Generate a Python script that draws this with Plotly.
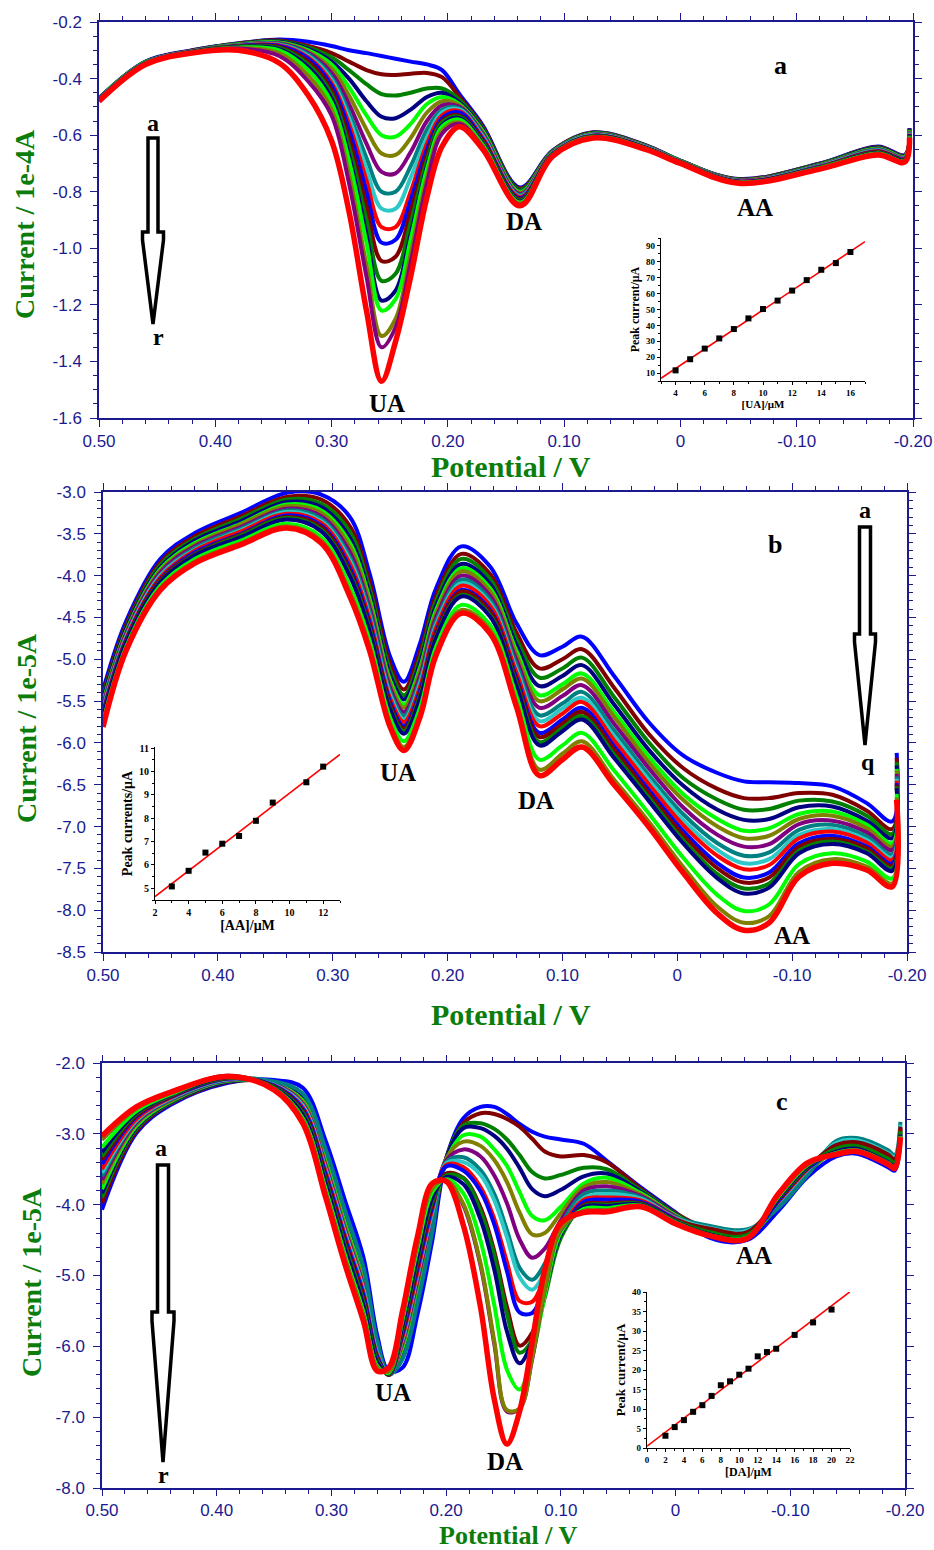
import numpy as np
import plotly.graph_objects as go

W, H = 934, 1550

# ---------------------------------------------------------------- colours
BLUE, MAROON, GREEN, NAVY = "#0000FF", "#800000", "#008000", "#000080"
LIME, OLIVE, PURPLE, TEAL = "#00FF00", "#808000", "#800080", "#008080"
CYAN, RED = "#2EC8C8", "#FF0000"
COLORS_18 = [BLUE, MAROON, GREEN, NAVY, LIME, OLIVE, PURPLE, TEAL, CYAN, RED,
             BLUE, MAROON, GREEN, NAVY, LIME, OLIVE, PURPLE, RED]
COLORS_17 = [BLUE, MAROON, GREEN, NAVY, LIME, OLIVE, PURPLE, TEAL, CYAN, RED,
             BLUE, MAROON, GREEN, NAVY, LIME, OLIVE, RED]

# ---------------------------------------------------------------- panel a (UA additions, 1e-4 A)
potential_a = [0.50, 0.46, 0.42, 0.38, 0.345, 0.32, 0.30, 0.285, 0.27, 0.257, 0.245, 0.232, 0.218,
               0.205, 0.19, 0.17, 0.138, 0.11, 0.075, 0.03, 0.0, -0.05, -0.12, -0.17, -0.193, -0.197]
current_a = [
    [-0.470, -0.340, -0.300, -0.275, -0.262, -0.270, -0.285, -0.300, -0.310, -0.320, -0.330, -0.340, -0.350, -0.370, -0.455, -0.565, -0.785, -0.655, -0.590, -0.635, -0.690, -0.755, -0.700, -0.640, -0.670, -0.575],
    [-0.471, -0.341, -0.301, -0.276, -0.265, -0.285, -0.310, -0.340, -0.370, -0.385, -0.387, -0.383, -0.380, -0.395, -0.465, -0.570, -0.789, -0.656, -0.591, -0.636, -0.691, -0.756, -0.701, -0.642, -0.671, -0.577],
    [-0.471, -0.341, -0.302, -0.277, -0.268, -0.290, -0.325, -0.370, -0.420, -0.455, -0.460, -0.450, -0.435, -0.435, -0.475, -0.575, -0.793, -0.657, -0.592, -0.637, -0.691, -0.757, -0.702, -0.644, -0.673, -0.579],
    [-0.472, -0.342, -0.302, -0.278, -0.270, -0.295, -0.340, -0.400, -0.480, -0.535, -0.540, -0.510, -0.465, -0.450, -0.485, -0.580, -0.797, -0.659, -0.594, -0.638, -0.692, -0.758, -0.704, -0.645, -0.674, -0.581],
    [-0.472, -0.342, -0.303, -0.279, -0.272, -0.300, -0.350, -0.430, -0.530, -0.600, -0.605, -0.560, -0.490, -0.465, -0.490, -0.585, -0.800, -0.660, -0.595, -0.639, -0.692, -0.759, -0.705, -0.647, -0.676, -0.583],
    [-0.473, -0.343, -0.303, -0.280, -0.274, -0.305, -0.365, -0.460, -0.580, -0.665, -0.670, -0.610, -0.520, -0.480, -0.495, -0.590, -0.804, -0.661, -0.596, -0.639, -0.693, -0.759, -0.706, -0.649, -0.677, -0.585],
    [-0.473, -0.343, -0.304, -0.281, -0.276, -0.310, -0.380, -0.490, -0.630, -0.730, -0.735, -0.660, -0.550, -0.495, -0.500, -0.595, -0.808, -0.662, -0.597, -0.640, -0.694, -0.760, -0.707, -0.651, -0.679, -0.587],
    [-0.474, -0.344, -0.304, -0.282, -0.278, -0.315, -0.395, -0.520, -0.680, -0.800, -0.800, -0.710, -0.580, -0.510, -0.505, -0.600, -0.812, -0.663, -0.598, -0.641, -0.694, -0.761, -0.708, -0.652, -0.680, -0.589],
    [-0.474, -0.344, -0.305, -0.283, -0.280, -0.320, -0.405, -0.540, -0.720, -0.860, -0.860, -0.750, -0.610, -0.520, -0.510, -0.605, -0.816, -0.664, -0.599, -0.642, -0.695, -0.762, -0.709, -0.654, -0.682, -0.591],
    [-0.475, -0.345, -0.305, -0.284, -0.282, -0.325, -0.415, -0.560, -0.760, -0.925, -0.925, -0.800, -0.630, -0.530, -0.515, -0.610, -0.819, -0.666, -0.601, -0.643, -0.695, -0.763, -0.711, -0.656, -0.683, -0.594],
    [-0.475, -0.345, -0.306, -0.285, -0.285, -0.330, -0.425, -0.580, -0.800, -0.980, -0.970, -0.830, -0.650, -0.540, -0.520, -0.615, -0.823, -0.667, -0.602, -0.644, -0.696, -0.764, -0.712, -0.658, -0.685, -0.596],
    [-0.476, -0.346, -0.306, -0.286, -0.288, -0.340, -0.440, -0.610, -0.850, -1.045, -1.030, -0.870, -0.670, -0.550, -0.530, -0.620, -0.827, -0.668, -0.603, -0.645, -0.696, -0.765, -0.713, -0.659, -0.686, -0.598],
    [-0.476, -0.346, -0.307, -0.287, -0.292, -0.350, -0.455, -0.640, -0.900, -1.115, -1.090, -0.910, -0.690, -0.555, -0.535, -0.625, -0.831, -0.669, -0.604, -0.646, -0.697, -0.766, -0.714, -0.661, -0.688, -0.600],
    [-0.477, -0.347, -0.307, -0.288, -0.296, -0.360, -0.470, -0.670, -0.950, -1.185, -1.150, -0.950, -0.710, -0.565, -0.540, -0.630, -0.835, -0.670, -0.605, -0.646, -0.698, -0.766, -0.715, -0.663, -0.689, -0.602],
    [-0.477, -0.347, -0.308, -0.290, -0.300, -0.370, -0.485, -0.690, -0.980, -1.220, -1.180, -0.970, -0.720, -0.570, -0.545, -0.635, -0.838, -0.671, -0.606, -0.647, -0.698, -0.767, -0.716, -0.665, -0.691, -0.604],
    [-0.478, -0.348, -0.308, -0.292, -0.310, -0.390, -0.510, -0.740, -1.060, -1.310, -1.250, -1.020, -0.750, -0.585, -0.555, -0.640, -0.842, -0.673, -0.608, -0.648, -0.699, -0.768, -0.718, -0.666, -0.692, -0.606],
    [-0.478, -0.348, -0.309, -0.294, -0.320, -0.410, -0.530, -0.770, -1.100, -1.350, -1.280, -1.050, -0.770, -0.595, -0.560, -0.645, -0.846, -0.674, -0.609, -0.649, -0.699, -0.769, -0.719, -0.668, -0.694, -0.608],
    [-0.480, -0.350, -0.310, -0.300, -0.345, -0.460, -0.620, -0.870, -1.220, -1.470, -1.330, -1.100, -0.820, -0.640, -0.570, -0.650, -0.850, -0.675, -0.610, -0.650, -0.700, -0.770, -0.720, -0.670, -0.695, -0.610],
]

# ---------------------------------------------------------------- panel b (AA additions, 1e-5 A)
# one row per potential, one column per curve a..q
potential_b = [0.50, 0.48, 0.45, 0.42, 0.38, 0.34, 0.31, 0.285, 0.268, 0.25, 0.238, 0.224, 0.21, 0.188,
               0.163, 0.14, 0.12, 0.10, 0.083, 0.055, 0.025, -0.005, -0.035, -0.058, -0.08, -0.106,
               -0.135, -0.165, -0.187, -0.191]
current_b_rows = [
    [-5.37, -5.42, -5.45, -5.48, -5.52, -5.54, -5.56, -5.59, -5.61, -5.63, -5.65, -5.67, -5.69, -5.70, -5.75, -5.79, -5.81],
    [-4.55, -4.59, -4.62, -4.64, -4.67, -4.68, -4.70, -4.73, -4.74, -4.76, -4.78, -4.79, -4.80, -4.81, -4.86, -4.88, -4.90],
    [-3.80, -3.84, -3.87, -3.90, -3.92, -3.94, -3.96, -3.99, -4.00, -4.02, -4.04, -4.05, -4.07, -4.08, -4.12, -4.15, -4.17],
    [-3.49, -3.53, -3.56, -3.58, -3.61, -3.63, -3.65, -3.67, -3.69, -3.70, -3.72, -3.74, -3.75, -3.76, -3.80, -3.83, -3.85],
    [-3.25, -3.29, -3.32, -3.35, -3.38, -3.39, -3.42, -3.44, -3.46, -3.47, -3.50, -3.51, -3.52, -3.54, -3.58, -3.61, -3.63],
    [-3.01, -3.06, -3.09, -3.12, -3.15, -3.17, -3.20, -3.22, -3.24, -3.26, -3.28, -3.30, -3.31, -3.33, -3.38, -3.41, -3.43],
    [-3.03, -3.09, -3.14, -3.18, -3.22, -3.25, -3.29, -3.32, -3.35, -3.37, -3.40, -3.42, -3.45, -3.47, -3.54, -3.58, -3.61],
    [-3.30, -3.41, -3.48, -3.55, -3.61, -3.66, -3.72, -3.78, -3.82, -3.86, -3.91, -3.95, -3.98, -4.01, -4.13, -4.20, -4.25],
    [-3.97, -4.07, -4.15, -4.21, -4.27, -4.32, -4.38, -4.43, -4.48, -4.51, -4.56, -4.60, -4.63, -4.66, -4.77, -4.84, -4.89],
    [-4.97, -5.06, -5.13, -5.19, -5.25, -5.29, -5.34, -5.39, -5.43, -5.47, -5.51, -5.54, -5.58, -5.60, -5.70, -5.77, -5.81],
    [-5.27, -5.36, -5.43, -5.48, -5.54, -5.58, -5.63, -5.68, -5.72, -5.75, -5.80, -5.83, -5.86, -5.89, -5.98, -6.05, -6.09],
    [-4.81, -4.91, -4.98, -5.04, -5.10, -5.14, -5.20, -5.25, -5.29, -5.33, -5.38, -5.41, -5.44, -5.47, -5.58, -5.65, -5.69],
    [-4.15, -4.24, -4.30, -4.36, -4.41, -4.45, -4.50, -4.55, -4.59, -4.62, -4.67, -4.69, -4.73, -4.75, -4.85, -4.91, -4.95],
    [-3.65, -3.74, -3.80, -3.86, -3.91, -3.95, -4.00, -4.05, -4.09, -4.12, -4.17, -4.19, -4.23, -4.25, -4.35, -4.41, -4.45],
    [-3.89, -3.98, -4.04, -4.10, -4.15, -4.19, -4.24, -4.29, -4.33, -4.36, -4.41, -4.43, -4.47, -4.49, -4.59, -4.65, -4.69],
    [-4.57, -4.68, -4.76, -4.83, -4.90, -4.95, -5.01, -5.07, -5.12, -5.16, -5.22, -5.25, -5.29, -5.32, -5.44, -5.52, -5.57],
    [-4.95, -5.11, -5.22, -5.32, -5.43, -5.50, -5.58, -5.67, -5.74, -5.80, -5.88, -5.93, -5.99, -6.03, -6.20, -6.32, -6.39],
    [-4.85, -5.00, -5.11, -5.20, -5.30, -5.36, -5.44, -5.53, -5.59, -5.65, -5.72, -5.77, -5.82, -5.86, -6.03, -6.13, -6.20],
    [-4.73, -4.88, -4.98, -5.07, -5.17, -5.23, -5.31, -5.39, -5.46, -5.51, -5.58, -5.63, -5.68, -5.72, -5.88, -5.98, -6.05],
    [-5.20, -5.34, -5.45, -5.54, -5.63, -5.69, -5.77, -5.85, -5.92, -5.97, -6.04, -6.08, -6.14, -6.18, -6.33, -6.44, -6.50],
    [-5.75, -5.89, -5.99, -6.08, -6.16, -6.23, -6.30, -6.38, -6.44, -6.49, -6.56, -6.60, -6.65, -6.69, -6.84, -6.94, -7.00],
    [-6.15, -6.30, -6.42, -6.51, -6.61, -6.68, -6.77, -6.85, -6.92, -6.98, -7.05, -7.10, -7.16, -7.20, -7.37, -7.48, -7.55],
    [-6.36, -6.55, -6.68, -6.80, -6.91, -7.00, -7.10, -7.20, -7.28, -7.35, -7.44, -7.50, -7.57, -7.62, -7.82, -7.96, -8.04],
    [-6.46, -6.66, -6.80, -6.92, -7.05, -7.14, -7.24, -7.35, -7.44, -7.51, -7.61, -7.67, -7.74, -7.80, -8.01, -8.15, -8.24],
    [-6.47, -6.66, -6.79, -6.91, -7.02, -7.11, -7.21, -7.31, -7.39, -7.46, -7.55, -7.61, -7.68, -7.73, -7.93, -8.07, -8.15],
    [-6.48, -6.60, -6.69, -6.77, -6.85, -6.91, -6.97, -7.04, -7.10, -7.14, -7.20, -7.24, -7.29, -7.32, -7.45, -7.54, -7.60],
    [-6.52, -6.62, -6.70, -6.76, -6.82, -6.87, -6.93, -6.98, -7.03, -7.06, -7.11, -7.15, -7.18, -7.21, -7.32, -7.39, -7.44],
    [-6.72, -6.81, -6.87, -6.93, -6.98, -7.02, -7.07, -7.12, -7.16, -7.19, -7.24, -7.26, -7.30, -7.32, -7.42, -7.48, -7.52],
    [-6.94, -7.03, -7.09, -7.14, -7.20, -7.24, -7.28, -7.33, -7.37, -7.40, -7.44, -7.47, -7.50, -7.53, -7.62, -7.68, -7.72],
    [-6.12, -6.18, -6.23, -6.27, -6.31, -6.33, -6.37, -6.40, -6.43, -6.45, -6.48, -6.50, -6.52, -6.54, -6.61, -6.65, -6.68],
]

# ---------------------------------------------------------------- panel c (DA additions, 1e-5 A)
potential_c = [0.50, 0.47, 0.44, 0.39, 0.35, 0.325, 0.305, 0.288, 0.272, 0.26, 0.25, 0.238, 0.225, 0.212,
               0.2, 0.185, 0.17, 0.158, 0.147, 0.136, 0.125, 0.114, 0.1, 0.08, 0.06, 0.03, 0.0, -0.03,
               -0.062, -0.09, -0.115, -0.14, -0.158, -0.185, -0.191, -0.196]
current_c = [
    [-4.07, -2.99, -2.59, -2.28, -2.24, -2.35, -3.10, -3.95, -4.75, -5.85, -6.35, -6.30, -5.55, -4.50, -3.35, -2.78, -2.62, -2.62, -2.72, -2.86, -2.97, -3.04, -3.08, -3.14, -3.38, -3.76, -4.11, -4.47, -4.50, -4.08, -3.61, -3.32, -3.28, -3.47, -3.52, -3.09],
    [-3.98, -2.96, -2.57, -2.27, -2.27, -2.45, -3.26, -4.13, -4.93, -5.95, -6.38, -6.14, -5.33, -4.34, -3.35, -2.85, -2.71, -2.72, -2.79, -2.90, -3.07, -3.25, -3.32, -3.30, -3.40, -3.78, -4.12, -4.35, -4.40, -4.03, -3.57, -3.17, -3.13, -3.30, -3.37, -2.91],
    [-3.90, -2.93, -2.56, -2.26, -2.28, -2.48, -3.30, -4.18, -4.98, -5.98, -6.38, -6.10, -5.28, -4.30, -3.35, -2.88, -2.85, -2.93, -3.08, -3.30, -3.54, -3.63, -3.58, -3.48, -3.50, -3.80, -4.13, -4.38, -4.42, -4.02, -3.56, -3.20, -3.16, -3.34, -3.40, -2.95],
    [-3.84, -2.91, -2.55, -2.26, -2.28, -2.50, -3.34, -4.22, -5.02, -6.00, -6.39, -6.06, -5.22, -4.26, -3.35, -2.92, -2.92, -3.03, -3.21, -3.48, -3.78, -3.88, -3.79, -3.60, -3.56, -3.82, -4.14, -4.39, -4.43, -4.01, -3.55, -3.22, -3.18, -3.36, -3.42, -2.97],
    [-3.78, -2.89, -2.54, -2.25, -2.29, -2.53, -3.38, -4.27, -5.07, -6.03, -6.39, -6.02, -5.17, -4.22, -3.38, -3.02, -3.04, -3.22, -3.45, -3.82, -4.16, -4.22, -4.03, -3.70, -3.62, -3.84, -4.15, -4.40, -4.44, -4.00, -3.54, -3.23, -3.19, -3.37, -3.43, -2.99],
    [-3.71, -2.86, -2.53, -2.24, -2.30, -2.55, -3.42, -4.31, -5.11, -6.05, -6.40, -5.98, -5.11, -4.18, -3.35, -3.11, -3.17, -3.37, -3.68, -4.11, -4.42, -4.40, -4.12, -3.75, -3.68, -3.86, -4.16, -4.41, -4.44, -3.98, -3.53, -3.24, -3.20, -3.38, -3.44, -2.99],
    [-3.65, -2.84, -2.52, -2.24, -2.30, -2.58, -3.46, -4.36, -5.16, -6.08, -6.40, -5.94, -5.06, -4.14, -3.38, -3.22, -3.32, -3.59, -3.98, -4.49, -4.75, -4.62, -4.22, -3.80, -3.74, -3.88, -4.17, -4.36, -4.40, -3.97, -3.52, -3.18, -3.14, -3.31, -3.38, -2.92],
    [-3.60, -2.82, -2.51, -2.23, -2.26, -2.43, -3.22, -4.09, -4.89, -5.93, -6.40, -6.18, -5.39, -4.38, -3.40, -3.33, -3.51, -3.85, -4.36, -4.89, -5.06, -4.83, -4.29, -3.85, -3.80, -3.90, -4.18, -4.30, -4.35, -4.04, -3.58, -3.10, -3.06, -3.23, -3.30, -2.83],
    [-3.55, -2.81, -2.50, -2.23, -2.31, -2.60, -3.50, -4.40, -5.20, -6.10, -6.40, -5.90, -5.00, -4.10, -3.42, -3.40, -3.58, -3.94, -4.46, -5.02, -5.20, -4.95, -4.37, -3.91, -3.85, -3.92, -4.19, -4.33, -4.37, -3.96, -3.51, -3.13, -3.09, -3.27, -3.33, -2.87],
    [-3.50, -2.79, -2.49, -2.22, -2.32, -2.63, -3.54, -4.45, -5.25, -6.13, -6.40, -5.86, -4.95, -4.06, -3.44, -3.47, -3.75, -4.20, -4.81, -5.36, -5.37, -5.01, -4.37, -3.93, -3.90, -3.94, -4.20, -4.37, -4.41, -3.95, -3.50, -3.19, -3.15, -3.33, -3.39, -2.93],
    [-3.43, -2.76, -2.48, -2.22, -2.32, -2.65, -3.58, -4.49, -5.29, -6.15, -6.40, -5.82, -4.89, -4.02, -3.46, -3.52, -3.81, -4.28, -4.94, -5.52, -5.53, -5.14, -4.44, -3.96, -3.93, -3.96, -4.21, -4.41, -4.45, -3.94, -3.49, -3.24, -3.20, -3.39, -3.44, -3.00],
    [-3.37, -2.74, -2.47, -2.21, -2.33, -2.68, -3.62, -4.54, -5.34, -6.18, -6.40, -5.78, -4.84, -3.98, -3.56, -3.62, -4.04, -4.66, -5.44, -5.99, -5.81, -5.24, -4.43, -4.00, -3.98, -3.98, -4.22, -4.34, -4.39, -3.92, -3.48, -3.16, -3.12, -3.29, -3.36, -2.90],
    [-3.32, -2.72, -2.46, -2.21, -2.34, -2.70, -3.66, -4.58, -5.38, -6.20, -6.39, -5.74, -4.78, -3.94, -3.59, -3.63, -4.09, -4.72, -5.54, -6.09, -5.91, -5.31, -4.47, -4.02, -4.00, -3.99, -4.23, -4.39, -4.43, -3.91, -3.47, -3.21, -3.17, -3.35, -3.41, -2.96],
    [-3.26, -2.70, -2.45, -2.20, -2.35, -2.73, -3.70, -4.63, -5.43, -6.23, -6.38, -5.70, -4.73, -3.90, -3.61, -3.71, -4.21, -4.92, -5.79, -6.24, -5.93, -5.26, -4.42, -4.03, -4.02, -4.00, -4.24, -4.42, -4.46, -3.90, -3.46, -3.25, -3.21, -3.40, -3.45, -3.01],
    [-3.19, -2.68, -2.44, -2.19, -2.36, -2.78, -3.78, -4.72, -5.52, -6.28, -6.37, -5.62, -4.62, -3.82, -3.64, -3.84, -4.51, -5.42, -6.33, -6.61, -6.14, -5.28, -4.39, -4.06, -4.05, -4.01, -4.25, -4.43, -4.46, -3.88, -3.44, -3.27, -3.23, -3.41, -3.47, -3.03],
    [-3.08, -2.64, -2.42, -2.18, -2.37, -2.81, -3.84, -4.78, -5.58, -6.31, -6.35, -5.56, -4.54, -3.76, -3.66, -3.99, -4.83, -5.93, -6.90, -6.88, -6.16, -5.19, -4.34, -4.09, -4.08, -4.02, -4.26, -4.44, -4.47, -3.86, -3.43, -3.28, -3.24, -3.42, -3.48, -3.04],
    [-3.08, -2.64, -2.42, -2.18, -2.37, -2.81, -3.84, -4.78, -5.58, -6.31, -6.35, -5.56, -4.54, -3.76, -3.66, -4.01, -4.86, -5.97, -6.92, -6.88, -6.18, -5.20, -4.35, -4.09, -4.08, -4.02, -4.26, -4.44, -4.47, -3.86, -3.43, -3.28, -3.24, -3.42, -3.48, -3.04],
    [-3.03, -2.62, -2.41, -2.19, -2.38, -2.85, -3.90, -4.85, -5.65, -6.35, -6.30, -5.50, -4.45, -3.70, -3.67, -4.29, -5.45, -6.75, -7.38, -6.92, -5.94, -4.92, -4.26, -4.11, -4.10, -4.03, -4.27, -4.44, -4.48, -3.84, -3.41, -3.29, -3.25, -3.43, -3.49, -3.05],
]
# olive curve p is stacked above purple q
draw_order_c = [0, 1, 2, 3, 4, 5, 6, 7, 8, 9, 10, 11, 12, 13, 14, 16, 15, 17]

# ---------------------------------------------------------------- calibration insets (µA vs µM)
ua_conc = [4, 5, 6, 7, 8, 9, 10, 11, 12, 13, 14, 15, 16]
ua_peak = [11.7, 18.7, 25.4, 31.8, 37.7, 44.4, 50.3, 55.6, 61.9, 68.5, 75.0, 79.2, 86.2]
aa_conc = [3, 4, 5, 6, 7, 8, 9, 11, 12]
aa_peak = [5.08, 5.75, 6.53, 6.91, 7.24, 7.89, 8.67, 9.54, 10.21]
da_conc = [2, 3, 4, 5, 6, 7, 8, 9, 10, 11, 12, 13, 14, 16, 18, 20]
da_peak = [3.15, 5.36, 7.15, 9.28, 10.98, 13.36, 16.09, 17.1, 18.8, 20.34, 23.5, 24.6, 25.45, 29.0, 32.2, 35.5]

# ---------------------------------------------------------------- tick labels
pot_ticks = [0.5, 0.4, 0.3, 0.2, 0.1, 0.0, -0.1, -0.2]
pot_ticktext = ["0.50", "0.40", "0.30", "0.20", "0.10", "0", "-0.10", "-0.20"]
ya_ticks = [-0.2, -0.4, -0.6, -0.8, -1.0, -1.2, -1.4, -1.6]
ya_ticktext = ["-0.2", "-0.4", "-0.6", "-0.8", "-1.0", "-1.2", "-1.4", "-1.6"]
yb_ticks = [-3.0, -3.5, -4.0, -4.5, -5.0, -5.5, -6.0, -6.5, -7.0, -7.5, -8.0, -8.5]
yb_ticktext = ["-3.0", "-3.5", "-4.0", "-4.5", "-5.0", "-5.5", "-6.0", "-6.5", "-7.0", "-7.5", "-8.0", "-8.5"]
yc_ticks = [-2.0, -3.0, -4.0, -5.0, -6.0, -7.0, -8.0]
yc_ticktext = ["-2.0", "-3.0", "-4.0", "-5.0", "-6.0", "-7.0", "-8.0"]

# ---------------------------------------------------------------- helpers
def xdom(p0, p1):
    return [p0 / W, p1 / W]


def ydom(top, bottom):
    return [1 - bottom / H, 1 - top / H]


AX = "#1b1b8f"
TICKFONT = dict(family="Liberation Sans, Arial", size=17, color=AX)
SERIF = "Liberation Serif, Times New Roman, serif"
TITLE_GREEN = "#0a7d0a"
LINE_W = 4.0


def main_axis(domain, rng, vals, texts, minor_dtick, anchor, ticklen=7):
    return dict(domain=domain, range=rng, anchor=anchor, automargin=False, tickmode="array",
                tickvals=vals, ticktext=texts, showline=True, linecolor=AX, linewidth=1.5,
                mirror="allticks", ticks="outside", ticklen=ticklen, tickwidth=1.3, tickcolor=AX,
                minor=dict(ticks="outside", ticklen=4, tickwidth=1.1, tickcolor=AX,
                           tickmode="linear", tick0=0, dtick=minor_dtick),
                showgrid=False, zeroline=False, tickfont=TICKFONT)


def inset_axis(domain, rng, vals, minor_dtick, anchor, title, fsize, tsize):
    return dict(domain=domain, range=rng, anchor=anchor, automargin=False, tickmode="array",
                tickvals=vals, ticktext=[str(v) for v in vals], showline=True, linecolor="black",
                linewidth=1.2, mirror=False, ticks="outside", ticklen=3, tickwidth=1,
                tickcolor="black",
                minor=dict(ticks="outside", ticklen=2, tickwidth=1, tickcolor="black",
                           tickmode="linear", tick0=0, dtick=minor_dtick),
                showgrid=False, zeroline=False,
                tickfont=dict(family=SERIF, size=fsize, color="black", weight="bold"),
                title=dict(text=title, standoff=3,
                           font=dict(family=SERIF, size=tsize, color="black", weight="bold")))


fig = go.Figure()

# panel a curves
for k, ys in enumerate(current_a):
    fig.add_trace(go.Scatter(x=potential_a, y=ys, mode="lines", xaxis="x", yaxis="y",
                             line=dict(color=COLORS_18[k], width=5.5 if k == 17 else LINE_W,
                                       shape="spline"),
                             hoverinfo="skip", showlegend=False))

# panel b curves
for k in range(17):
    ys = [row[k] for row in current_b_rows]
    fig.add_trace(go.Scatter(x=potential_b, y=ys, mode="lines", xaxis="x2", yaxis="y2",
                             line=dict(color=COLORS_17[k], width=5.5 if k == 16 else LINE_W,
                                       shape="spline"),
                             hoverinfo="skip", showlegend=False))

# panel c curves
for k in draw_order_c:
    fig.add_trace(go.Scatter(x=potential_c, y=current_c[k], mode="lines", xaxis="x3", yaxis="y3",
                             line=dict(color=COLORS_18[k], width=5.5 if k == 17 else LINE_W,
                                       shape="spline"),
                             hoverinfo="skip", showlegend=False))

# calibration insets: points and least-squares line
for conc, peak, xa, ya, xr in [(ua_conc, ua_peak, "x4", "y4", (3, 17)),
                               (aa_conc, aa_peak, "x5", "y5", (2, 13)),
                               (da_conc, da_peak, "x6", "y6", (0, 22))]:
    slope, icpt = np.polyfit(conc, peak, 1)
    fx = np.array(xr, dtype=float)
    fig.add_trace(go.Scatter(x=fx, y=slope * fx + icpt, mode="lines", xaxis=xa, yaxis=ya,
                             line=dict(color="red", width=1.6), hoverinfo="skip", showlegend=False))
    fig.add_trace(go.Scatter(x=conc, y=peak, mode="markers", xaxis=xa, yaxis=ya,
                             marker=dict(symbol="square", size=6, color="black"),
                             hoverinfo="skip", showlegend=False))

layout = dict(width=W, height=H, margin=dict(l=0, r=0, t=0, b=0, autoexpand=False), autosize=False,
              paper_bgcolor="white", plot_bgcolor="white")

layout["xaxis"] = main_axis(xdom(99, 913), [0.5, -0.2], pot_ticks, pot_ticktext, 0.02, "y")
layout["yaxis"] = main_axis(ydom(22, 418), [-1.6, -0.2], ya_ticks, ya_ticktext, 0.05, "x")
layout["xaxis2"] = main_axis(xdom(103, 907), [0.5, -0.2], pot_ticks, pot_ticktext, 0.02, "y2")
layout["yaxis2"] = main_axis(ydom(492, 952), [-8.5, -3.0], yb_ticks, yb_ticktext, 0.1, "x2")
layout["xaxis3"] = main_axis(xdom(102, 905), [0.5, -0.2], pot_ticks, pot_ticktext, 0.02, "y3",
                             ticklen=6)
layout["yaxis3"] = main_axis(ydom(1063, 1488), [-8.0, -2.0], yc_ticks, yc_ticktext, 0.2, "x3")
for ax in ("yaxis", "yaxis2", "yaxis3"):
    layout[ax]["ticklabelstandoff"] = 5

layout["xaxis4"] = inset_axis(xdom(661, 865), [3, 17], [4, 6, 8, 10, 12, 14, 16], 1, "y4",
                              "[UA]/\u03bcM", 9, 11)
layout["yaxis4"] = inset_axis(ydom(238, 381), [5, 95], [10, 20, 30, 40, 50, 60, 70, 80, 90], 5, "x4",
                              "Peak current/\u03bcA", 9, 12)
layout["xaxis5"] = inset_axis(xdom(155, 340), [2, 13], [2, 4, 6, 8, 10, 12], 1, "y5",
                              "[AA]/\u03bcM", 10, 14)
layout["yaxis5"] = inset_axis(ydom(747, 900), [4.5, 11.05], [5, 6, 7, 8, 9, 10, 11], 0.5, "x5",
                              "Peak currents/\u03bcA", 10, 14)
layout["xaxis6"] = inset_axis(xdom(647, 850), [0, 22], [0, 2, 4, 6, 8, 10, 12, 14, 16, 18, 20, 22], 1,
                              "y6", "[DA]/\u03bcM", 9, 12)
layout["yaxis6"] = inset_axis(ydom(1292, 1448), [0, 40], [0, 5, 10, 15, 20, 25, 30, 35, 40], 2.5, "x6",
                              "Peak current/\u03bcA", 9, 13)

fig.update_layout(**layout)


# ---------------------------------------------------------------- text
def add_text(px, py, text, size, color="black", angle=0):
    fig.add_annotation(x=px / W, y=1 - py / H, xref="paper", yref="paper", text=text,
                       showarrow=False, xanchor="center", yanchor="middle", textangle=angle,
                       borderpad=0, font=dict(family=SERIF, size=size, color=color, weight="bold"))


# axis titles
add_text(511, 467, "Potential / V", 30, TITLE_GREEN)
add_text(511, 1014, "Potential / V", 30, TITLE_GREEN)
add_text(508, 1535, "Potential / V", 26, TITLE_GREEN)
add_text(24, 224, "Current / 1e-4A", 28, TITLE_GREEN, -90)
add_text(26, 728, "Current / 1e-5A", 28, TITLE_GREEN, -90)
add_text(31, 1282, "Current / 1e-5A", 28, TITLE_GREEN, -90)

# panel letters and peak labels
for px, py, t, s in [(780, 65, "a", 26), (387, 403, "UA", 25), (524, 222, "DA", 25), (755, 208, "AA", 25),
                     (153, 123, "a", 24), (158, 337, "r", 24),
                     (775, 545, "b", 26), (398, 772, "UA", 25), (536, 800, "DA", 25), (792, 935, "AA", 25),
                     (865, 510, "a", 24), (868, 762, "q", 24),
                     (782, 1101, "c", 26), (393, 1392, "UA", 25), (505, 1461, "DA", 25), (754, 1255, "AA", 25),
                     (161, 1148, "a", 24), (163, 1475, "r", 24)]:
    add_text(px, py, t, s)


# hollow arrows showing the order of the curves
def arrow_path(cx, top, shaft, head_top, head, head_bot, tip):
    pts = [(cx - shaft, top), (cx + shaft, top), (cx + shaft, head_top), (cx + head, head_top),
           (cx + head, head_bot), (cx, tip), (cx - head, head_bot), (cx - head, head_top),
           (cx - shaft, head_top)]
    segs = ["{} {:.5f},{:.5f}".format("M" if i == 0 else "L", x / W, 1 - y / H)
            for i, (x, y) in enumerate(pts)]
    return " ".join(segs) + " Z"


for args in [(153, 138, 5, 232, 10.5, 240, 324),
             (865, 527, 5.5, 634, 10.5, 642, 745),
             (163, 1165, 5.5, 1312, 11, 1321, 1462)]:
    fig.add_shape(type="path", path=arrow_path(*args), xref="paper", yref="paper",
                  line=dict(color="black", width=3.5), fillcolor="white", layer="above")

fig.write_html("out.html")
